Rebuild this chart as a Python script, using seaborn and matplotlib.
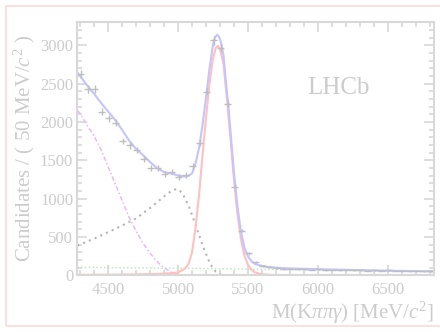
import matplotlib
matplotlib.use('Agg')
import matplotlib.pyplot as plt
from matplotlib.patches import Rectangle
from matplotlib.ticker import MultipleLocator
import numpy as np
import seaborn as sns

# data points, 50 MeV bins from 4280 to 6830
bin_centres = list(range(4305, 6830, 50))
counts = [2631, 2431, 2431, 2138, 2052, 1995, 1756, 1697, 1638, 1520,
          1399, 1399, 1321, 1355, 1282, 1312, 1430, 1734, 2399, 3065,
          2966, 2239, 1159, 585, 290, 180, 124, 108, 95, 84,
          88, 80, 82, 74, 79, 73, 76, 70, 74, 66,
          71, 64, 68, 62, 66, 60, 63, 57, 61, 55, 58]

# total fit
total_m = [4280, 4350, 4400, 4450, 4500, 4550, 4600, 4650, 4700, 4750, 4800, 4850,
           4900, 4950, 5000, 5050, 5075, 5100, 5125, 5150, 5175, 5200, 5225, 5250,
           5265, 5280, 5295, 5310, 5325, 5350, 5360, 5375, 5400, 5425, 5450, 5475,
           5500, 5525, 5550, 5600, 5650, 5700, 5800, 6000, 6200, 6400, 6600, 6830]
total_v = [2650, 2480, 2370, 2250, 2140, 2030, 1900, 1760, 1650, 1570, 1480, 1400,
           1350, 1330, 1305, 1290, 1300, 1330, 1460, 1660, 1960, 2320, 2700, 3010,
           3110, 3140, 3110, 3020, 2870, 2380, 2220, 1880, 1340, 900, 570, 360,
           250, 185, 150, 125, 110, 102, 92, 82, 74, 66, 60, 54]

# signal
sig_m = [4280, 4500, 4700, 4850, 4950, 5000, 5050, 5075, 5100, 5125, 5150, 5175,
         5200, 5225, 5250, 5270, 5285, 5300, 5325, 5350, 5375, 5400, 5425, 5450,
         5475, 5500, 5525, 5550, 5600, 5700, 5800, 6830]
sig_v = [8, 10, 14, 20, 30, 40, 90, 150, 300, 620, 1050, 1560,
         2060, 2500, 2830, 2970, 2995, 2960, 2760, 2290, 1790, 1250, 800, 470,
         260, 140, 75, 40, 15, 4, 0, 0]

# partially reconstructed background
part_m = [4280, 4400, 4500, 4600, 4700, 4800, 4900, 4950, 4990, 5030, 5080, 5130,
          5180, 5230, 5270, 5300, 5330]
part_v = [390, 480, 565, 650, 745, 880, 1030, 1100, 1130, 1080, 890, 640,
          370, 150, 50, 15, 0]

# other peaking background
peak_m = [4280, 4300, 4350, 4400, 4450, 4500, 4550, 4600, 4650, 4700, 4750, 4800,
          4850, 4900, 4950, 5000, 5050]
peak_v = [2150, 2115, 1960, 1820, 1640, 1420, 1200, 980, 760, 580, 420, 290,
          180, 100, 45, 12, 0]

# combinatorial background
comb_m = [4280, 4800, 5300, 5800, 6300, 6830]
comb_v = [108, 98, 88, 78, 66, 54]

txt = '#cccccc'
frame = '#d8d8d8'

sns.set_style('ticks')
plt.rcParams['font.family'] = ['Liberation Serif', 'DejaVu Serif']
plt.rcParams['mathtext.fontset'] = 'custom'
plt.rcParams['mathtext.rm'] = 'Liberation Serif'
plt.rcParams['mathtext.it'] = 'Liberation Serif:italic'

fig = plt.figure(figsize=(4.4, 3.32), dpi=100)
fig.patches.append(Rectangle((5.7 / 440, 6.3 / 332), 1.0, 320 / 332,
                             transform=fig.transFigure, fill=False,
                             edgecolor='#f9dada', linewidth=1.2))
ax = fig.add_axes([0.1757, 0.1702, 0.8107, 0.7644])

sns.lineplot(x=peak_m, y=peak_v, ax=ax, color='#ebb8f4', linewidth=1.1,
             linestyle=(0, (3, 1.5, 1, 1.5)), sort=False, estimator=None)
sns.lineplot(x=part_m, y=part_v, ax=ax, color='#b4b4b4', linewidth=1.5,
             linestyle=(0, (1, 2)), sort=False, estimator=None)
sns.lineplot(x=comb_m, y=comb_v, ax=ax, color='#c2e6c2', linewidth=1.1,
             linestyle=(0, (1, 1.5)), sort=False, estimator=None)
sns.lineplot(x=sig_m, y=sig_v, ax=ax, color='#ffc0c0', linewidth=1.5,
             sort=False, estimator=None)
sns.lineplot(x=total_m, y=total_v, ax=ax, color='#c4c4ff', linewidth=1.5,
             sort=False, estimator=None)
ax.errorbar(bin_centres, counts, xerr=25, yerr=np.sqrt(counts), fmt='none',
            ecolor='#bebebe', elinewidth=1.0, capsize=0)

ax.set_xlim(4280, 6830)
ax.set_ylim(0, 3310)
ax.xaxis.set_major_locator(MultipleLocator(500))
ax.xaxis.set_minor_locator(MultipleLocator(100))
ax.yaxis.set_major_locator(MultipleLocator(500))
ax.yaxis.set_minor_locator(MultipleLocator(100))
ax.tick_params(which='both', direction='in', top=True, right=True,
               color=frame, width=1.2, labelcolor=txt, labelsize=12)
ax.tick_params(which='major', length=7)
ax.tick_params(which='minor', length=3.5)
ax.tick_params(axis='x', pad=5)
ax.tick_params(axis='y', pad=3)
for s in ax.spines.values():
    s.set_color(frame)
    s.set_linewidth(1.5)

ax.set_xlabel(r'M(K$\pi\pi\gamma$) [MeV/$c^{2}$]', color=txt, fontsize=15,
              loc='right', labelpad=1)
ax.set_ylabel(r'Candidates / ( 50 MeV/$c^{2}$ )', color=txt, fontsize=15,
              labelpad=2)
ax.text(0.731, 0.739, 'LHCb', transform=ax.transAxes, ha='center', va='center',
        fontsize=18, color=txt)

fig.savefig('out.png', dpi=100)
